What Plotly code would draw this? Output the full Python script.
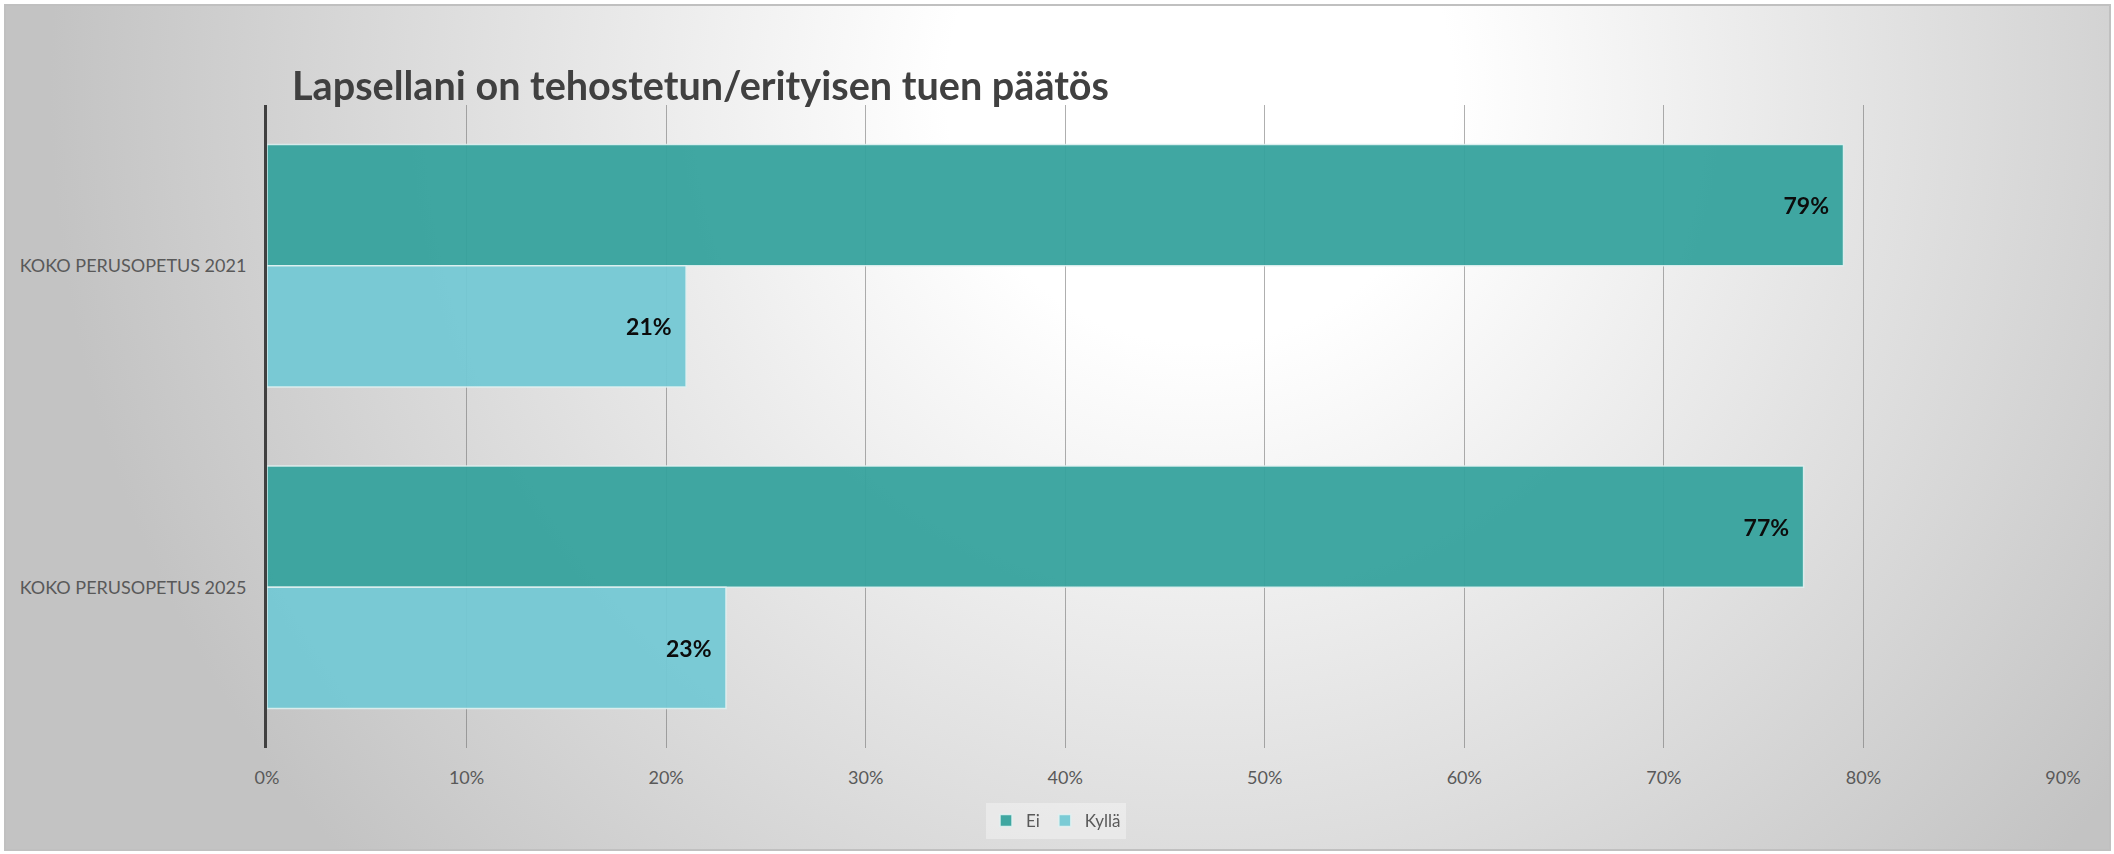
import base64
import plotly.graph_objects as go

categories = ["KOKO PERUSOPETUS 2021", "KOKO PERUSOPETUS 2025"]
ei_values = [0.79, 0.77]
kylla_values = [0.21, 0.23]
ei_labels = ["79%", "77%"]
kylla_labels = ["21%", "23%"]
x_ticks = [0, 0.1, 0.2, 0.3, 0.4, 0.5, 0.6, 0.7, 0.8, 0.9]
x_tick_labels = ["0%", "10%", "20%", "30%", "40%", "50%", "60%", "70%", "80%", "90%"]
title_text = "Lapsellani on tehostetun/erityisen tuen päätös"

W, H = 2114, 854
L, R, T, B = 267, 51, 105, 106
pw, ph = W - L - R, H - T - B

svg = f"""<svg xmlns='http://www.w3.org/2000/svg' width='{W}' height='{H}' viewBox='0 0 {W} {H}'>
<defs><radialGradient id='g' cx='1200' cy='90' r='1150' gradientUnits='userSpaceOnUse'>
<stop offset='0' stop-color='#ffffff'/><stop offset='0.22' stop-color='#ffffff'/><stop offset='1' stop-color='#c3c3c3'/></radialGradient></defs>
<rect x='0' y='0' width='{W}' height='{H}' fill='#ffffff'/>
<rect x='5' y='5' width='{W-9}' height='{H-9}' fill='url(#g)' stroke='#c0c0c0' stroke-width='2'/>
</svg>"""
src = "data:image/svg+xml;base64," + base64.b64encode(svg.encode()).decode()

pad = "\u2002"
label_font = dict(family="Lato", size=23, color="#000000", weight="bold")
bar_line = dict(color="rgba(225,242,242,0.9)", width=1.5)

fig = go.Figure()
fig.add_trace(go.Bar(
    y=categories, x=ei_values, name="Ei", orientation="h",
    marker=dict(color="#36A39D", line=bar_line), opacity=0.95,
    text=[t + pad for t in ei_labels], textposition="inside", insidetextanchor="end",
    textfont=label_font, constraintext="none", cliponaxis=False,
))
fig.add_trace(go.Bar(
    y=categories, x=kylla_values, name="Kyllä", orientation="h",
    marker=dict(color="#74C9D4", line=bar_line), opacity=0.95,
    text=[t + pad for t in kylla_labels], textposition="inside", insidetextanchor="end",
    textfont=label_font, constraintext="none", cliponaxis=False,
))

fig.update_layout(
    width=W, height=H,
    margin=dict(l=L, r=R, t=T, b=B, autoexpand=False),
    paper_bgcolor="#ffffff", plot_bgcolor="rgba(0,0,0,0)",
    barmode="group", bargap=0.245, bargroupgap=0.0,
    font=dict(family="Lato", color="#595959"),
    title=dict(text=f"<b>{title_text}</b>", x=292 / W, xanchor="left", xref="container",
               y=1 - 86 / H, yanchor="middle", yref="container",
               font=dict(family="Lato", size=39.6, color="#404040")),
    xaxis=dict(range=[0, 0.9], tickvals=x_ticks, ticktext=x_tick_labels,
               showgrid=True, gridcolor="rgba(110,110,110,0.55)", gridwidth=1.3,
               zeroline=False, showline=False, ticks="outside", ticklen=13,
               tickcolor="rgba(0,0,0,0)", tickfont=dict(size=18, color="#595959")),
    yaxis=dict(autorange="reversed", showgrid=False, zeroline=False,
               showline=True, linecolor="#404040", linewidth=3,
               ticks="outside", ticklen=14, tickcolor="rgba(0,0,0,0)",
               tickfont=dict(size=18, color="#595959")),
    legend=dict(orientation="h", x=(1056 - L) / pw, xanchor="center",
                y=-(821 - (T + ph)) / ph, yanchor="middle",
                bgcolor="rgba(255,255,255,0.35)", font=dict(size=17, color="#595959"),
                traceorder="normal", itemwidth=30),
    images=[dict(source=src, xref="paper", yref="paper",
                 x=-L / pw, y=1 + T / ph, sizex=W / pw, sizey=H / ph,
                 xanchor="left", yanchor="top", sizing="stretch", layer="below")],
    showlegend=True,
)

fig.write_html("out.html", config={"displayModeBar": False},
               post_script="document.body.style.margin='0px';")
